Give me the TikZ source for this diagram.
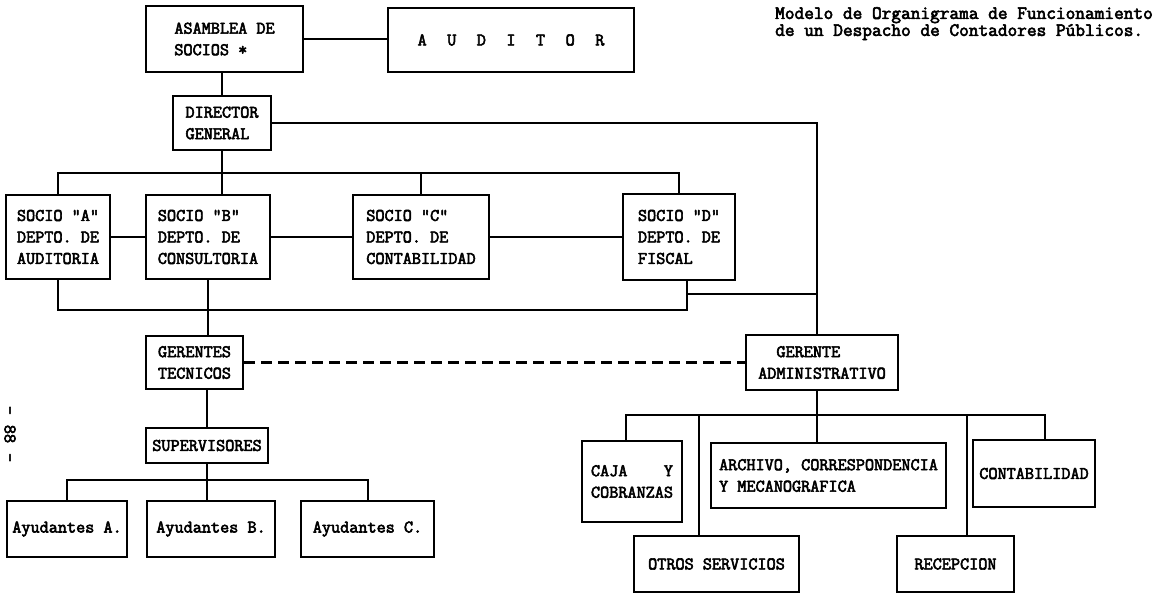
\documentclass[tikz,border=0pt]{standalone}
\usepackage{fontspec}
\newfontfamily\tw{Latin Modern Mono}[FakeBold=3.2]
\newcommand\lsp{\hspace{20.5pt}}
\begin{document}
\begin{tikzpicture}[x=1pt,y=-1pt,
  box/.style={draw, line width=2.4pt, inner sep=0pt, align=left,
    font=\fontsize{17.7}{21.5}\selectfont\tw},
  conn/.style={line width=2pt},
  dash line/.style={line width=2.2pt, dash pattern=on 11pt off 6pt}]
\useasboundingbox (0,0) rectangle (1166,595);
% top
\node[box, minimum width=157, minimum height=66] (asam) at (224.5,39) {ASAMBLEA DE\\SOCIOS *};
\node[box, minimum width=246, minimum height=64] (aud) at (511,40) {A\lsp U\lsp D\lsp I\lsp T\lsp O\lsp R};
\node[box, minimum width=98, minimum height=54] (dir) at (222,123) {DIRECTOR\\GENERAL};
% socios
\node[box, minimum width=104, minimum height=84] (sa) at (58,237) {SOCIO "A"\\DEPTO. DE\\AUDITORIA};
\node[box, minimum width=124, minimum height=84] (sb) at (208,237) {SOCIO "B"\\DEPTO. DE\\CONSULTORIA};
\node[box, minimum width=136, minimum height=84] (sc) at (421,237) {SOCIO "C"\\DEPTO. DE\\CONTABILIDAD};
\node[box, minimum width=112, minimum height=86] (sd) at (679,237) {SOCIO "D"\\DEPTO. DE\\FISCAL};
% gerentes
\node[box, minimum width=97, minimum height=53] (gt) at (194.5,362.5) {GERENTES\\TECNICOS};
\node[box, minimum width=152, minimum height=55] (ga) at (822,362.5) {\phantom{XX}GERENTE\\ADMINISTRATIVO};
\node[box, minimum width=122, minimum height=35] (sup) at (207,445.5) {SUPERVISORES};
% ayudantes
\node[box, minimum width=120, minimum height=56] (aa) at (67,529) {Ayudantes A.};
\node[box, minimum width=128, minimum height=56] (ab) at (211,529) {Ayudantes B.};
\node[box, minimum width=133, minimum height=56] (ac) at (367.5,529) {Ayudantes C.};
% administrative
\node[box, minimum width=100, minimum height=81] (caja) at (632,481.5) {CAJA\phantom{XXXX}Y\\COBRANZAS};
\node[box, minimum width=235, minimum height=65] (arch) at (828.5,475.5) {ARCHIVO, CORRESPONDENCIA\\Y MECANOGRAFICA};
\node[box, minimum width=122, minimum height=67] (cont) at (1034,473.5) {CONTABILIDAD};
\node[box, minimum width=165, minimum height=56] (otros) at (716.5,564) {OTROS SERVICIOS};
\node[box, minimum width=117, minimum height=56] (recep) at (955.5,564) {RECEPCION};
% title and page number
\node[anchor=north west, inner sep=0pt, align=left,
  font=\fontsize{18.8}{17}\selectfont\tw] (title) at (775,7)
  {Modelo de Organigrama de Funcionamiento\\de un Despacho de Contadores Públicos.};
\node[rotate=-90, inner sep=0pt, font=\fontsize{17.7}{18}\selectfont\tw] (page) at (10,434) {-\hspace{10pt}88\hspace{10pt}-};
% coordinates
\coordinate (vx) at (817,0);
\coordinate (bj) at (687,310);
\coordinate (bk) at (687,294);
\coordinate (r1) at (626,415);
\coordinate (r2) at (699,415);
\coordinate (r4) at (967,415);
\coordinate (r5) at (1045,415);
% connectors
\draw[conn] (asam.east) -- (asam.east -| aud.west);
\draw[conn] (dir.north) -- (dir.north |- asam.south);
\draw[conn] (dir.south) -- (dir.south |- sb.north);
\draw[conn] (sa.north) -- ++(0,-21) -| (sd.north);
\draw[conn] (sc.north) -- ++(0,-21);
\draw[conn] (dir.east) -- (dir.east -| vx) -- (vx |- ga.north);
\draw[conn] (sa.east) -- (sb.west);
\draw[conn] (sb.east) -- (sc.west);
\draw[conn] (sc.east) -- (sd.west);
\draw[conn] (sa.south) |- (bj) -- (bj |- sd.south);
\draw[conn] (bk) -- (bk -| vx);
\draw[conn] (sb.south) -- (sb.south |- gt.north);
\draw[dash line] (gt.east) -- (ga.west);
\draw[conn] (sup.north |- gt.south) -- (sup.north);
\draw[conn] (sup.south) -- (sup.south |- ab.north);
\draw[conn] (aa.north) -- ++(0,-20) -| (ac.north);
\draw[conn] (vx |- ga.south) -- (vx |- arch.north);
\draw[conn] (r1 |- caja.north) -- (r1) -- (r5) -- (r5 |- cont.north);
\draw[conn] (r2) -- (r2 |- otros.north);
\draw[conn] (r4) -- (r4 |- recep.north);
\end{tikzpicture}
\end{document}
